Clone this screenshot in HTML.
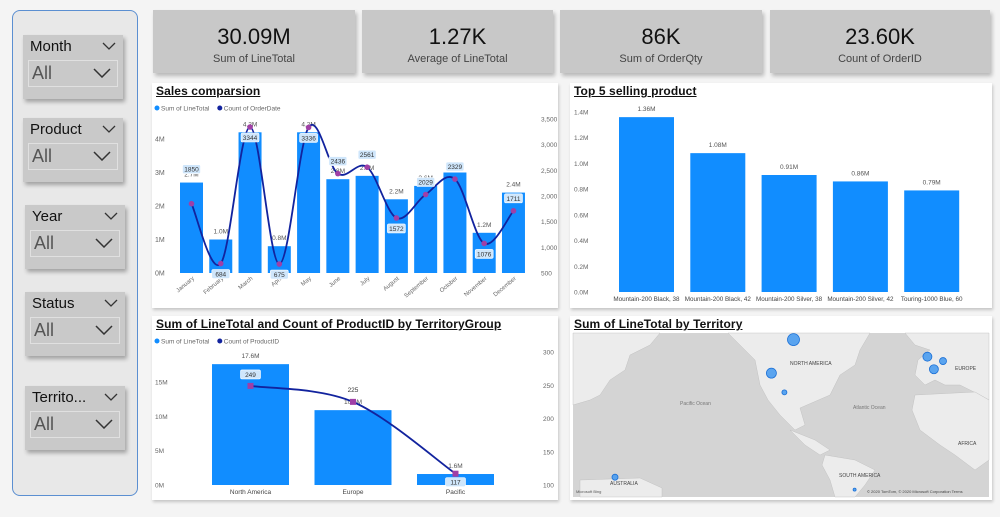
<!DOCTYPE html>
<html><head><meta charset="utf-8">
<style>
*{box-sizing:border-box;margin:0;padding:0}
body{width:1000px;height:517px;background:#f4f4f4;font-family:"Liberation Sans",sans-serif;position:relative;overflow:hidden}
.abs{position:absolute}
#side{left:12px;top:10px;width:126px;height:486px;background:#e8e8e8;border:1px solid #5b8fd1;border-radius:8px}
.slicer{position:absolute;width:100px;height:64px;background:#c9c9c9;box-shadow:2px 3px 4px rgba(0,0,0,.3)}
.slicer .t{position:absolute;left:7px;top:3px;font-size:15px;color:#111}
.slicer .c1{position:absolute;right:7px;top:7px}
.slicer .dd{position:absolute;left:5px;top:25px;width:90px;height:27px;border:1px solid #e0e0e0}
.slicer .dd span{position:absolute;left:3px;top:2px;font-size:18px;color:#555}
.slicer .dd svg{position:absolute;right:6px;top:7px}
.card{position:absolute;top:10px;height:63px;background:#c8c8c8;box-shadow:2px 3px 4px rgba(0,0,0,.25);text-align:center}
.card .v{margin-top:14px;font-size:22px;color:#111}
.card .l{margin-top:3px;font-size:11px;color:#444}
.panel{position:absolute;background:#fff;box-shadow:1px 2px 3px rgba(0,0,0,.2)}
.title{position:absolute;left:4px;top:1px;font-size:12px;color:#111;text-decoration:underline;font-weight:bold;letter-spacing:.1px}
svg text{font-family:"Liberation Sans",sans-serif}
</style></head><body>
<div id="side" class="abs"></div>
<div class="slicer" style="left:23px;top:35px"><div class="t">Month</div><svg class="c1" width="14" height="8"><polyline points="1,1 7,7 13,1" fill="none" stroke="#333" stroke-width="1.3"/></svg><div class="dd"><span>All</span><svg width="18" height="10"><polyline points="1,1 9,9 17,1" fill="none" stroke="#333" stroke-width="1.5"/></svg></div></div>
<div class="slicer" style="left:23px;top:118px"><div class="t">Product</div><svg class="c1" width="14" height="8"><polyline points="1,1 7,7 13,1" fill="none" stroke="#333" stroke-width="1.3"/></svg><div class="dd"><span>All</span><svg width="18" height="10"><polyline points="1,1 9,9 17,1" fill="none" stroke="#333" stroke-width="1.5"/></svg></div></div>
<div class="slicer" style="left:25px;top:205px"><div class="t">Year</div><svg class="c1" width="14" height="8"><polyline points="1,1 7,7 13,1" fill="none" stroke="#333" stroke-width="1.3"/></svg><div class="dd"><span>All</span><svg width="18" height="10"><polyline points="1,1 9,9 17,1" fill="none" stroke="#333" stroke-width="1.5"/></svg></div></div>
<div class="slicer" style="left:25px;top:292px"><div class="t">Status</div><svg class="c1" width="14" height="8"><polyline points="1,1 7,7 13,1" fill="none" stroke="#333" stroke-width="1.3"/></svg><div class="dd"><span>All</span><svg width="18" height="10"><polyline points="1,1 9,9 17,1" fill="none" stroke="#333" stroke-width="1.5"/></svg></div></div>
<div class="slicer" style="left:25px;top:386px"><div class="t">Territo...</div><svg class="c1" width="14" height="8"><polyline points="1,1 7,7 13,1" fill="none" stroke="#333" stroke-width="1.3"/></svg><div class="dd"><span>All</span><svg width="18" height="10"><polyline points="1,1 9,9 17,1" fill="none" stroke="#333" stroke-width="1.5"/></svg></div></div>

<div class="card" style="left:153px;width:202px"><div class="v">30.09M</div><div class="l">Sum of LineTotal</div></div>
<div class="card" style="left:362px;width:191px"><div class="v">1.27K</div><div class="l">Average of LineTotal</div></div>
<div class="card" style="left:560px;width:202px"><div class="v">86K</div><div class="l">Sum of OrderQty</div></div>
<div class="card" style="left:770px;width:220px"><div class="v">23.60K</div><div class="l">Count of OrderID</div></div>

<div class="panel" style="left:152px;top:83px;width:406px;height:225px"><div class="title">Sales comparsion</div></div>
<div class="panel" style="left:570px;top:83px;width:422px;height:225px"><div class="title">Top 5 selling product</div></div>
<div class="panel" style="left:152px;top:316px;width:406px;height:184px"><div class="title">Sum of LineTotal and Count of ProductID by TerritoryGroup</div></div>
<div class="panel" style="left:570px;top:316px;width:422px;height:184px"><div class="title">Sum of LineTotal by Territory</div></div>

<svg id="chart" class="abs" style="left:0;top:0" width="1000" height="517"></svg>

<script>
const months=["January","February","March","April","May","June","July","August","September","October","November","December"];
const salesM=[2.7,1.0,4.2,0.8,4.2,2.8,2.9,2.2,2.6,3.0,1.2,2.4];
const orderCount=[1850,684,3344,675,3336,2436,2561,1572,2029,2329,1076,1711];
const salesTicks=[0,1,2,3,4];
const countTicks=[500,1000,1500,2000,2500,3000,3500];

const products=["Mountain-200 Black, 38","Mountain-200 Black, 42","Mountain-200 Silver, 38","Mountain-200 Silver, 42","Touring-1000 Blue, 60"];
const productSales=[1.36,1.08,0.91,0.86,0.79];
const productLabels=["1.36M","1.08M","0.91M","0.86M","0.79M"];
const productTicks=[0,0.2,0.4,0.6,0.8,1.0,1.2,1.4];

const groups=["North America","Europe","Pacific"];
const groupSales=[17.6,10.9,1.6];
const groupCount=[249,225,117];
const groupSalesTicks=[0,5,10,15];
const groupCountTicks=[100,150,200,250,300];

const bubbleLon=[-105,-122,-112,-2,3,10,135,-58];
const bubbleLat=[60,45,34,53,47,51,-26,-34];
const bubbleVal=[6,5,2.5,4.5,4.5,3.5,3,1.5];

const svg=document.getElementById('chart');
const NS='http://www.w3.org/2000/svg';
function mk(tag,attrs,parent){const e=document.createElementNS(NS,tag);for(const k in attrs)e.setAttribute(k,attrs[k]);(parent||svg).appendChild(e);return e;}
function txt(x,y,s,attrs,parent){const e=mk('text',Object.assign({x:x,y:y,'font-size':7,fill:'#666'},attrs||{}),parent);e.textContent=s;return e;}
function smooth(pts){let d='M'+pts[0][0]+','+pts[0][1];for(let i=0;i<pts.length-1;i++){const p0=pts[i-1]||pts[i],p1=pts[i],p2=pts[i+1],p3=pts[i+2]||p2;const c1=[p1[0]+(p2[0]-p0[0])/6,p1[1]+(p2[1]-p0[1])/6],c2=[p2[0]-(p3[0]-p1[0])/6,p2[1]-(p3[1]-p1[1])/6];d+=' C'+c1+' '+c2+' '+p2;}return d;}
const BLUE='#118dff',NAVY='#12239e',MAG='#a03fa6';
function fmt(n){return n.toLocaleString('en-US');}

function legend(x,y,a,b,nm){const g=mk('g',{});
mk('circle',{cx:x,cy:y,r:2.5,fill:BLUE},g);txt(x+4,y+2.5,a,{'font-size':6.5},g);const w=a.length*3.3+10;mk('circle',{cx:x+w,cy:y,r:2.5,fill:NAVY},g);txt(x+w+4,y+2.5,b,{'font-size':6.5},g);}
legend(157,108,'Sum of LineTotal','Count of OrderDate','sales-legend');
legend(157,341,'Sum of LineTotal','Count of ProductID','group-legend');

// ---- Sales comparison
(function(){
const y0=273, pxM=33.5, x0=191.5, step=29.27, bw=23;
const yL=v=>y0-v*pxM, yR=v=>y0-(v-500)*(154/3000), xC=i=>x0+i*step;
const g=mk('g',{});
salesTicks.forEach(t=>{const e=txt(155,yL(t)+2.5,t+'M',{},g);});
countTicks.forEach(t=>{const e=txt(541,yR(t)+2.5,fmt(t),{'font-size':6.5},g);});
salesM.forEach((v,i)=>{const r=mk('rect',{x:xC(i)-bw/2,y:yL(v),width:bw,height:y0-yL(v),fill:BLUE},g);
const l=txt(xC(i),yL(v)-6,v.toFixed(1)+'M',{'text-anchor':'middle','font-size':6.5,fill:'#555'},g);
const m=txt(xC(i)+3,y0+6,months[i],{'text-anchor':'end','font-size':6,transform:'rotate(-40 '+(xC(i)+3)+' '+(y0+6)+')'},g);});
const pts=orderCount.map((v,i)=>[xC(i),yR(v)]);
const p=mk('path',{d:smooth(pts),fill:'none',stroke:NAVY,'stroke-width':1.8},g);
orderCount.forEach((v,i)=>{const c=mk('circle',{cx:xC(i),cy:yR(v),r:2.8,fill:MAG},g);
const up=(i==0||i==5||i==6||i==8||i==9||i==11);const ly=i==0?yR(v)-33:(up?yR(v)-11:yR(v)+12);
mk('rect',{x:xC(i)-9,y:ly-6,width:18,height:9,rx:1.5,fill:'#cfe6fb',stroke:'#fff','stroke-width':0.6},g);
const t=txt(xC(i),ly+1,String(v),{'text-anchor':'middle','font-size':6.5,fill:'#333'},g);});
})();

// ---- Top 5
(function(){
const y0=292, px=180/1.4, x0=646.5, step=71.3, bw=55;
const yS=v=>y0-v*px, xC=i=>x0+i*step;
const g=mk('g',{});
productTicks.forEach(t=>{const e=txt(574,yS(t)+2.5,t.toFixed(1)+'M',{'font-size':6.5},g);});
productSales.forEach((v,i)=>{const r=mk('rect',{x:xC(i)-bw/2,y:yS(v),width:bw,height:y0-yS(v),fill:BLUE},g);
const l=txt(xC(i),yS(v)-6,productLabels[i],{'text-anchor':'middle','font-size':6.5,fill:'#555'},g);
const c=txt(xC(i),301,products[i],{'text-anchor':'middle','font-size':6.3,fill:'#444'},g);});
})();

// ---- Territory group
(function(){
const y0=485, pxM=103/15, x0=250.5, step=102.5, bw=77;
const yL=v=>y0-v*pxM, yR=v=>y0-(v-100)*(133/200), xC=i=>x0+i*step;
const g=mk('g',{});
groupSalesTicks.forEach(t=>{const e=txt(155,yL(t)+2.5,t+'M',{'font-size':6.5},g);});
groupCountTicks.forEach(t=>{const e=txt(543,yR(t)+2.5,String(t),{'font-size':6.5},g);});
groupSales.forEach((v,i)=>{const r=mk('rect',{x:xC(i)-bw/2,y:yL(v),width:bw,height:y0-yL(v),fill:BLUE},g);
const l=txt(xC(i),yL(v)-6,v.toFixed(1)+'M',{'text-anchor':'middle','font-size':6.5,fill:'#555'},g);
const c=txt(xC(i),494,groups[i],{'text-anchor':'middle','font-size':6.5,fill:'#444'},g);});
const pts=groupCount.map((v,i)=>[xC(i),yR(v)]);
const p=mk('path',{d:smooth(pts),fill:'none',stroke:NAVY,'stroke-width':1.8},g);
groupCount.forEach((v,i)=>{const c=mk('rect',{x:xC(i)-3,y:yR(v)-3,width:6,height:6,fill:MAG},g);
const ly=i==1?yR(v)-11:(i==2?yR(v)+10:yR(v)-10);
if(i!=1)mk('rect',{x:xC(i)-10,y:ly-6,width:20,height:9,rx:1.5,fill:'#cfe6fb',stroke:'#fff','stroke-width':0.6},g);
const t=txt(xC(i),ly+1,String(v),{'text-anchor':'middle','font-size':6.5,fill:'#333'},g);});
})();

// ---- Map
(function(){
const g=mk('g',{});
mk('rect',{x:573,y:333,width:416,height:164,fill:'#d4d4d4'},g);
const land='#ececec';
[
"573,333 660,333 650,345 630,355 625,370 610,380 600,395 590,400 573,405",
"728,333 870,333 860,350 855,365 840,375 830,395 800,408 805,425 795,430 780,415 768,400 760,385 755,360 740,345",
"790,430 815,440 830,450 820,455 805,445",
"825,455 855,460 875,470 865,485 855,497 835,497 830,480 822,465",
"905,333 989,333 989,400 980,395 960,385 945,385 935,380 925,385 915,375 918,360 930,350 915,345",
"915,395 975,392 989,400 989,460 975,470 955,455 940,445 920,430 912,410",
"580,480 640,478 662,488 662,497 580,497"
].forEach(pt=>mk('polygon',{points:pt,fill:land,stroke:'#bbb','stroke-width':0.4},g));
txt(790,365,'NORTH AMERICA',{'font-size':5,fill:'#444'},g);
txt(680,405,'Pacific Ocean',{'font-size':5,fill:'#777'},g);
txt(853,409,'Atlantic Ocean',{'font-size':5,fill:'#777'},g);
txt(955,370,'EUROPE',{'font-size':5,fill:'#444'},g);
txt(958,445,'AFRICA',{'font-size':5,fill:'#444'},g);
txt(839,477,'SOUTH AMERICA',{'font-size':5,fill:'#444'},g);
txt(610,485,'AUSTRALIA',{'font-size':5,fill:'#444'},g);
txt(576,493,'Microsoft Bing',{'font-size':4,fill:'#555'},g);
txt(867,493,'© 2020 TomTom, © 2020 Microsoft Corporation  Terms',{'font-size':4,fill:'#444'},g);
const px=lon=>lon>100?615+(lon-135)*1.3:930+lon*1.3;
const py=lat=>{const m=Math.log(Math.tan(Math.PI/4+lat*Math.PI/360));return 441-77*m;};
bubbleVal.forEach((r,i)=>{
const c=mk('circle',{cx:px(bubbleLon[i]),cy:py(bubbleLat[i]),r:r,fill:'#4a9cf0',stroke:'#1a6fd6','stroke-width':0.8,'fill-opacity':0.9},g);});
})();
</script>
</body></html>
